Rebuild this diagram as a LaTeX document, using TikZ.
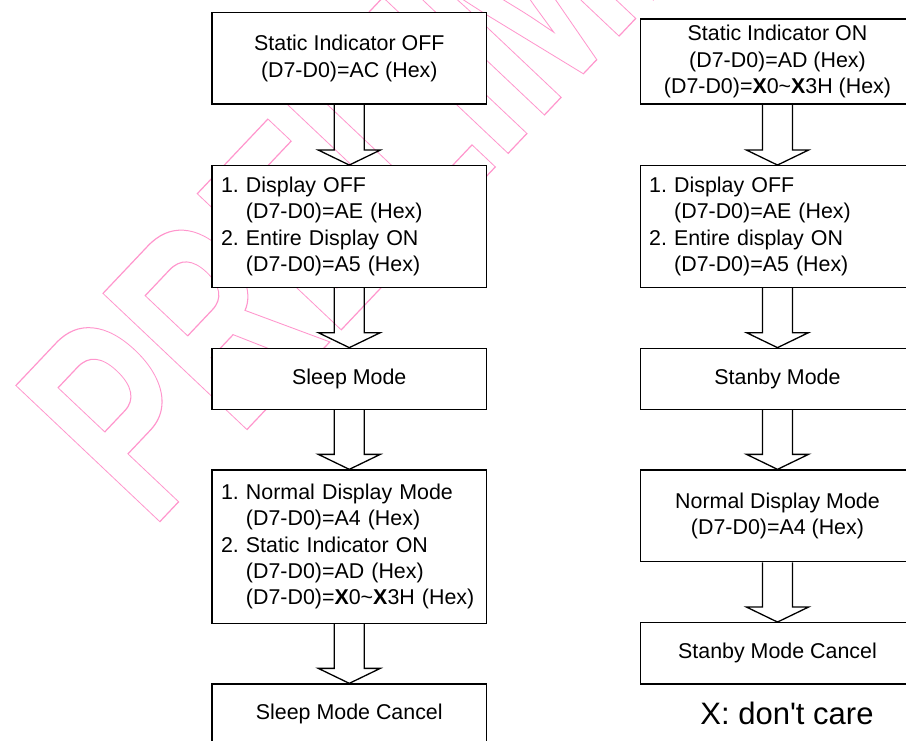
\documentclass[tikz,border=0pt]{standalone}
\usepackage{fontspec}
\usetikzlibrary{calc}
\newfontfamily\arial{Liberation Sans}
\newcommand\boxfont{\arial\fontsize{21.4}{26.3}\selectfont\frenchspacing}
\newcommand\ind{\hphantom{1. }}
% outlined (stroked, unfilled) text for the watermark
\newcommand\outl[1]{\special{pdf:literal direct 1 Tr 1.2 w}#1\special{pdf:literal direct 0 Tr}}
% hollow block arrow from the bottom of one box to the top of the next
\newcommand\blockarrow[2]{%
  \draw[flow] ([xshift=-15pt]#1.south) -- ([xshift=-15pt,yshift=15pt]#2.north)
    -- ([xshift=-31pt,yshift=15pt]#2.north) -- (#2.north)
    -- ([xshift=31pt,yshift=15pt]#2.north) -- ([xshift=15pt,yshift=15pt]#2.north)
    -- ([xshift=15pt]#1.south);}
\definecolor{wmpink}{RGB}{255,150,205}
\begin{document}
\begin{tikzpicture}[x=1pt,y=-1pt,
  box/.style={draw, line width=1.3pt, fill=white, font=\boxfont,
    minimum width=274.6pt, inner xsep=9pt, inner ysep=0pt},
  listbox/.style={box, text width=256.6pt, align=left},
  textbox/.style={box, align=center},
  flow/.style={line width=1.3pt, line join=miter},
  watermark/.style={text=wmpink, inner sep=0pt,
    font=\arial\bfseries\fontsize{288}{300}\selectfont}]
\useasboundingbox[fill=white] (0,0) rectangle (906,740);

% watermark behind the flow charts
\node[watermark, anchor=base west, rotate=46.6, xscale=0.66] (wm) at (151,531)
  {\outl{PRELIMINARY}};

% left chart
\node[textbox, minimum height=91.3pt] (l1) at (349.3,58.35)
  {Static Indicator OFF\\(D7-D0)=AC (Hex)};
\node[listbox, minimum height=121.6pt] (l2) at (349.3,226.5)
  {\mbox{1. Display OFF}\\\mbox{\ind(D7-D0)=AE (Hex)}\\\mbox{2. Entire Display ON}\\\mbox{\ind(D7-D0)=A5 (Hex)}};
\node[textbox, minimum height=61pt] (l3) at (349.3,378.8) {Sleep Mode};
\node[listbox, minimum height=153.3pt] (l4) at (349.3,546.65)
  {\mbox{1. Normal Display Mode}\\\mbox{\ind(D7-D0)=A4 (Hex)}\\\mbox{2. Static Indicator ON}\\\mbox{\ind(D7-D0)=AD (Hex)}\\\mbox{\ind(D7-D0)=\textbf{X}0\textasciitilde\textbf{X}3H (Hex)}};
\node[textbox, minimum height=60pt] (l5) at (349.3,714) {Sleep Mode Cancel};

% right chart
\node[textbox, minimum height=85pt] (r1) at (777.5,61.5)
  {\rule{0pt}{4pt}Static Indicator ON\\(D7-D0)=AD (Hex)\\(D7-D0)=\textbf{X}0\textasciitilde\textbf{X}3H (Hex)};
\node[listbox, minimum height=121.6pt] (r2) at (777.5,226.5)
  {\mbox{1. Display OFF}\\\mbox{\ind(D7-D0)=AE (Hex)}\\\mbox{2. Entire display ON}\\\mbox{\ind(D7-D0)=A5 (Hex)}};
\node[textbox, minimum height=61pt] (r3) at (777.5,378.8) {Stanby Mode};
\node[textbox, minimum height=91.7pt] (r4) at (777.5,515.85)
  {Normal Display Mode\\(D7-D0)=A4 (Hex)};
\node[textbox, minimum height=61.3pt] (r5) at (777.5,653.35) {Stanby Mode Cancel};

\node[font=\arial\fontsize{31}{36}\selectfont, anchor=base, inner sep=0pt] (note)
  at (787,724) {X: don't care};

% arrows
\blockarrow{l1}{l2}
\blockarrow{l2}{l3}
\blockarrow{l3}{l4}
\blockarrow{l4}{l5}
\blockarrow{r1}{r2}
\blockarrow{r2}{r3}
\blockarrow{r3}{r4}
\blockarrow{r4}{r5}
\end{tikzpicture}
\end{document}
